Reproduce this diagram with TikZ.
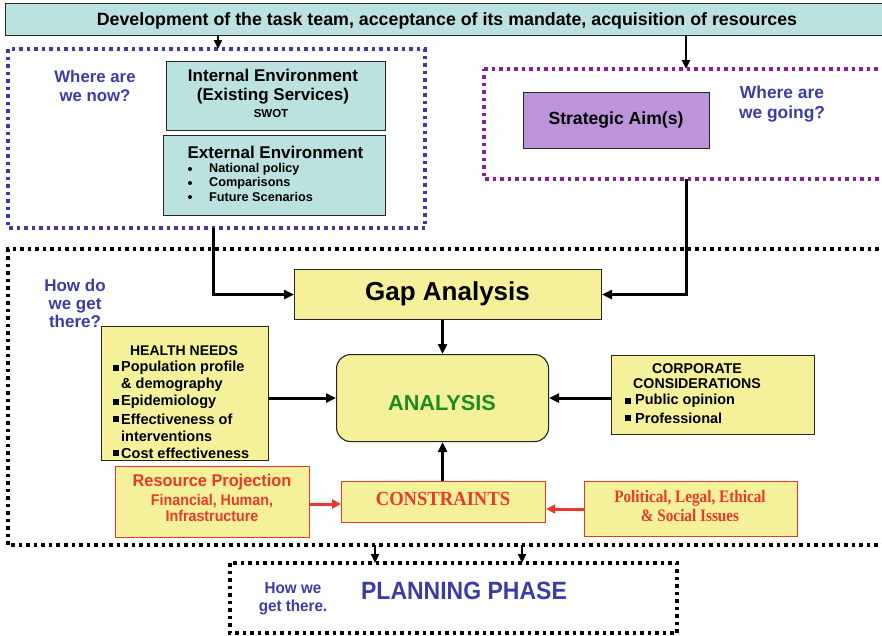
\documentclass[tikz,border=0pt]{standalone}
\usepackage{fontspec}
\setmainfont{Liberation Sans}
\newfontfamily\serifb{Liberation Serif}
\usetikzlibrary{arrows.meta}
\definecolor{cyanfill}{HTML}{BCE1E1}
\definecolor{yelfill}{HTML}{F5F19B}
\definecolor{purfill}{HTML}{BC94DA}
\definecolor{qblue}{HTML}{3C3CA6}
\definecolor{qpurple}{HTML}{8A1C9E}
\definecolor{qred}{HTML}{E8392A}
\definecolor{qgreen}{HTML}{1E8C1E}
\tikzset{
  fs/.style={font=\fontsize{#1}{#1}\selectfont\bfseries},
  box/.style={draw=black!85, line width=1.1pt, anchor=north west, inner sep=0pt},
  redbox/.style={draw=qred, fill=yelfill, line width=1.2pt, anchor=north west, inner sep=0pt},
  dotbox/.style={line width=3.2pt, dash pattern=on 3.5pt off 4pt},
  conn/.style={line width=3pt, -{Triangle[length=10pt,width=9pt]}},
  thinconn/.style={line width=2.2pt, -{Triangle[length=9pt,width=8pt]}},
  redconn/.style={line width=3pt, draw=qred, -{Triangle[length=9pt,width=9pt]}, qred},
  txt/.style={inner sep=0pt},
  bul/.style={inner sep=0pt, minimum size=5.5pt, fill=black, draw=none},
  dotbul/.style={inner sep=0pt, minimum size=4pt, circle, fill=black, draw=none},
}
\begin{document}
\begin{tikzpicture}[x=1pt,y=-1pt]
\useasboundingbox (0,0) rectangle (882,635);
% banner
\node[box, fill=cyanfill, minimum width=880pt, minimum height=32pt] (banner) at (5,3) {};
\node[txt, fs=17.8] (bannert) at (447,20.5) {Development of the task team, acceptance of its mandate, acquisition of resources};
% left dotted box
\draw[dotbox, draw=qblue] (8,49) rectangle (425,228);
\coordinate (ltop) at (218,49);
\coordinate (lbot) at (213,228);
\node[txt, fs=16.8, text=qblue, align=center] (where1) at (95,86) {Where are\\[2pt]we now?};
\node[box, fill=cyanfill, minimum width=219pt, minimum height=69pt] (intenv) at (166,61) {};
\node[txt, fs=17, align=center] (intt) at (273,86.5) {Internal Environment\\[2.5pt](Existing Services)};
\node[txt, fs=11.5] (swot) at (271,113.5) {SWOT};
\node[box, fill=cyanfill, minimum width=222pt, minimum height=80pt] (extenv) at (163,135) {};
\node[txt, fs=17] (extt) at (275.5,152) {External Environment};
\foreach \yy/\tt [count=\i] in {169/National policy,183/Comparisons,197/Future Scenarios}{
  \node[dotbul] (eb\i) at (190,\yy) {};
  \node[txt, fs=12.7, anchor=west] (et\i) at (209,\yy) {\tt};
}
% purple dotted box
\draw[dotbox, draw=qpurple] (484,69) -- (886,69);
\draw[dotbox, draw=qpurple] (886,179) -- (484,179) -- (484,69);
\coordinate (ptop) at (686,69);
\coordinate (pbot) at (686,179);
\node[box, fill=purfill, minimum width=186pt, minimum height=56pt] (aim) at (523,92) {};
\node[txt, fs=17.6] (aimt) at (616,120) {Strategic Aim(s)};
\node[txt, fs=17.4, text=qblue, align=center] (where2) at (782,104) {Where are\\[2pt]we going?};
% banner arrows
\draw[thinconn] (banner.south -| ltop) -- (ltop);
\draw[thinconn] (banner.south -| ptop) -- (ptop);
% big dotted box
\draw[dotbox, draw=black] (886,249) -- (8,249) -- (8,545) -- (886,545);
\coordinate (bb1) at (375,545);
\coordinate (bb2) at (522,545);
\node[txt, fs=17, text=qblue, align=center] (how) at (75,303) {How do\\[1pt]we get\\[1pt]there?};
% gap analysis
\node[box, fill=yelfill, minimum width=307pt, minimum height=50pt] (gap) at (294,269) {};
\node[txt, fs=26] (gapt) at (447.5,294) {Gap Analysis};
\draw[conn] (lbot) |- (gap.west);
\draw[conn] (pbot) |- (gap.east);
% analysis
\node[box, fill=yelfill, rounded corners=14pt, minimum width=212pt, minimum height=87pt] (ana) at (336,354) {};
\node[txt, fs=21.7, text=qgreen] (anat) at (442,403) {ANALYSIS};
\draw[conn] (gap.south -| ana.north) -- (ana.north);
% health needs
\node[box, fill=yelfill, minimum width=167pt, minimum height=134pt] (hn) at (101,326) {};
\node[txt, fs=14] (hnt) at (184,351) {HEALTH NEEDS};
\foreach \yy/\tt [count=\i] in {368/Population profile,385/\& demography,402/Epidemiology,419/Effectiveness of,436/interventions,453/Cost effectiveness}{
  \node[txt, fs=14.5, anchor=west] (ht\i) at (121,\yy) {\tt};
}
\foreach \yy [count=\i] in {368,402,419,453}{
  \node[bul] (hb\i) at (116,\yy) {};
}
\draw[conn] (hn.east |- ana.west) -- (ana.west);
% corporate
\node[box, fill=yelfill, minimum width=203pt, minimum height=79pt] (corp) at (611,355) {};
\node[txt, fs=14.2, align=center] (corpt) at (697,376) {CORPORATE\\[1pt]CONSIDERATIONS};
\node[txt, fs=14.5, anchor=west] (ct1) at (635,401) {Public opinion};
\node[txt, fs=14.5, anchor=west] (ct2) at (635,418) {Professional};
\node[bul] (cb1) at (628,401) {};
\node[bul] (cb2) at (628,418) {};
\draw[conn] (corp.west |- ana.east) -- (ana.east);
% constraints row
\node[redbox, minimum width=204pt, minimum height=41pt] (cons) at (341,481) {};
\node[txt, font=\serifb\bfseries\fontsize{20}{20}\selectfont, text=qred] (const) at (443,499) {\addfontfeature{FakeStretch=0.93}CONSTRAINTS};
\draw[conn] (cons.north -| ana.south) -- (ana.south);
\node[redbox, minimum width=194pt, minimum height=71pt] (res) at (115,466) {};
\node[txt, fs=17, text=qred] (rest) at (212,482) {\addfontfeature{FakeStretch=0.96}Resource Projection};
\node[txt, fs=15.5, text=qred, align=center] (res2) at (212,508) {\addfontfeature{FakeStretch=0.92}Financial, Human,\\[1pt]\addfontfeature{FakeStretch=0.92}Infrastructure};
\node[redbox, minimum width=213pt, minimum height=55pt] (pol) at (584,481) {};
\node[txt, font=\serifb\bfseries\fontsize{17.5}{17.5}\selectfont, text=qred, align=center] (polt) at (690,506) {\addfontfeature{FakeStretch=0.87}Political, Legal, Ethical\\[1pt]\addfontfeature{FakeStretch=0.87}\& Social Issues};
\coordinate (r1) at (309,504);
\coordinate (p1) at (584,509);
\draw[redconn] (r1) -- (r1 -| cons.west);
\draw[redconn] (p1) -- (p1 -| cons.east);
% planning
\draw[dotbox, draw=black] (230,563) rectangle (677,633);
\coordinate (pl1) at (375,563);
\coordinate (pl2) at (522,563);
\draw[thinconn] (bb1) -- (pl1);
\draw[thinconn] (bb2) -- (pl2);
\node[txt, fs=16, text=qblue, align=center] (howwe) at (293,599) {\addfontfeature{FakeStretch=0.95}How we\\[2pt]\addfontfeature{FakeStretch=0.95}get there.};
\node[txt, fs=25, text=qblue] (plan) at (464,591) {\addfontfeature{FakeStretch=0.92}PLANNING PHASE};
\end{tikzpicture}
\end{document}
